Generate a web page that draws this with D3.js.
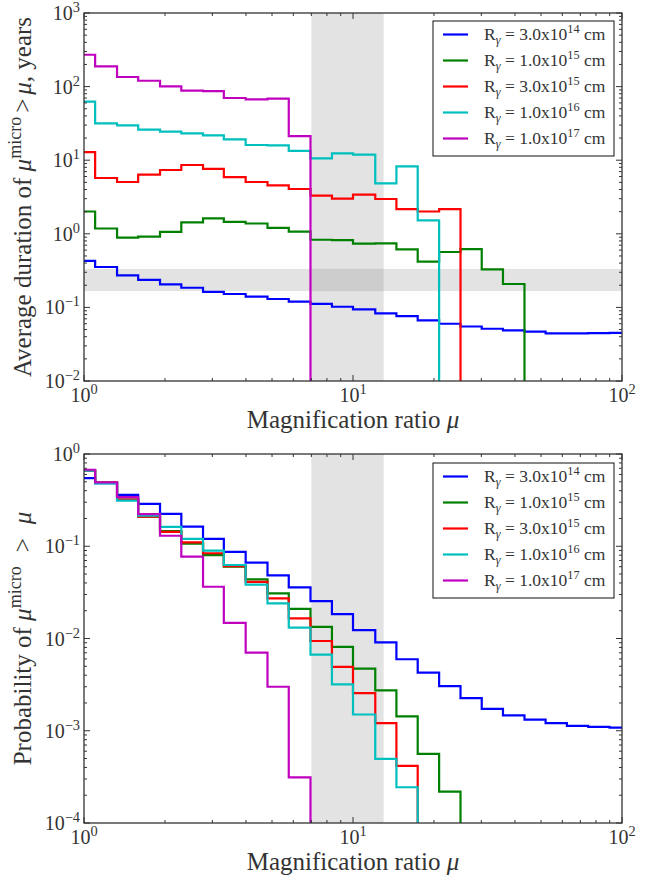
<!DOCTYPE html>
<html>
<head>
<meta charset="utf-8">
<script src="https://cdn.jsdelivr.net/npm/d3@7"></script>
<style>
  body { margin: 0; background: #fff; }
  text { font-family: "Liberation Serif", "DejaVu Serif", serif; fill: #333; }
</style>
</head>
<body>
<svg id="chart" width="660" height="881"></svg>
<script>
// bin edges of the magnification ratio (shared by both panels)
const edges = [1.0, 1.10, 1.327, 1.59, 1.917, 2.30, 2.77, 3.31, 3.99, 4.81, 5.77, 6.95, 8.35,
  10.0, 12.1, 14.5, 17.4, 20.9, 25.1, 30.1, 36.1, 43.4, 52.0, 62.4, 74.9, 89.9, 100]

const labels = ["3.0x10|14", "1.0x10|15", "3.0x10|15", "1.0x10|16", "1.0x10|17"]
const colors = ["#0000ff", "#008000", "#ff0000", "#00bfbf", "#bf00bf"]

// top panel: average duration (years)
const durBlue = [0.43, 0.354, 0.272, 0.236, 0.206, 0.185, 0.163, 0.152, 0.14, 0.13, 0.12, 0.112, 0.102,
  0.094, 0.083, 0.076, 0.0666, 0.060, 0.055, 0.0513, 0.0488, 0.0468, 0.0444, 0.0444, 0.0446, 0.045]
const durGreen = [2.01, 1.18, 0.885, 0.914, 1.06, 1.43, 1.62, 1.45, 1.38, 1.2, 1.07, 0.83, 0.82,
  0.734, 0.74, 0.614, 0.418, 0.566, 0.62, 0.328, 0.208, 0]
const durRed = [12.9, 5.73, 5.06, 6.35, 7.36, 8.6, 7.6, 5.9, 5.06, 4.55, 4.06, 3.3, 3.0,
  3.4, 2.97, 2.17, 2.01, 2.17, 0]
const durCyan = [62.4, 31.6, 29.7, 26, 24.4, 23.1, 21.7, 19.2, 16.1, 15.9, 13.4, 10.6, 12.4,
  11.9, 4.84, 8.24, 1.52, 0]
const durMagenta = [271, 188, 135, 120, 100.6, 88, 87, 70, 67, 68.6, 21.3, 0]

// bottom panel: probability of mu_micro > mu
const probBlue = [0.548, 0.484, 0.361, 0.288, 0.224, 0.163, 0.12, 0.0867, 0.0664, 0.0484, 0.0358, 0.0254, 0.0184,
  0.0123, 0.0091, 0.00596, 0.00427, 0.00305, 0.00226, 0.00173, 0.00147, 0.00132, 0.00121, 0.00113, 0.0011, 0.00108]
const probGreen = [0.66, 0.49, 0.32, 0.21, 0.146, 0.107, 0.080, 0.060, 0.0438, 0.0308, 0.021, 0.0134, 0.0081,
  0.00472, 0.00274, 0.00143, 0.000562, 0.000219, 0]
const probRed = [0.66, 0.49, 0.32, 0.21, 0.143, 0.11, 0.084, 0.061, 0.0412, 0.0272, 0.0165, 0.0094, 0.00492,
  0.00256, 0.00121, 0.000417, 0]
const probCyan = [0.66, 0.48, 0.313, 0.215, 0.162, 0.12, 0.0897, 0.0626, 0.0383, 0.024, 0.0131, 0.0067, 0.00319,
  0.0015, 0.000496, 0.000244, 0]
const probMagenta = [0.675, 0.492, 0.341, 0.223, 0.13, 0.077, 0.0364, 0.0148, 0.00704, 0.003, 0.000313, 0]

const vSpan = [7, 13]          // shaded mu range
const hSpan = [1 / 6, 1 / 3]   // shaded duration range (top only)

const svg = d3.select("#chart")

const panels = [
  { top: 13, bottom: 381, ydom: [1e-2, 1e3], series: [durBlue, durGreen, durRed, durCyan, durMagenta],
    hspan: hSpan, legendY: 21, gap: 4, ylabel: ["Average duration of ", "μ", "micro", ">", "μ", ", years"] },
  { top: 454, bottom: 823, ydom: [1e-4, 1], series: [probBlue, probGreen, probRed, probCyan, probMagenta],
    hspan: null, legendY: 463, gap: 14, ylabel: ["Probability of ", "μ", "micro", ">", "μ", ""] }
]

const left = 84, right = 622

panels.forEach((p, pi) => drawPanel(p, pi))

function powLabel(sel, e) {
  sel.append("tspan").text("10")
  sel.append("tspan").attr("dy", -8).attr("font-size", "0.72em").text(String(e).replace("-", "−"))
}

function drawPanel(p, pi) {
  let x = d3.scaleLog().domain([1, 100]).range([left, right]),
      y = d3.scaleLog().domain(p.ydom).range([p.bottom, p.top])

  let g = svg.append("g")

  g.append("clipPath").attr("id", "clip" + pi)
    .append("rect").attr("x", left).attr("y", p.top).attr("width", right - left).attr("height", p.bottom - p.top)

  // shaded spans
  g.append("rect")
    .attr("x", x(vSpan[0])).attr("width", x(vSpan[1]) - x(vSpan[0]))
    .attr("y", p.top).attr("height", p.bottom - p.top)
    .attr("fill", "#808080").attr("fill-opacity", 0.22)
  if (p.hspan) {
    g.append("rect")
      .attr("x", left).attr("width", right - left)
      .attr("y", y(p.hspan[1])).attr("height", y(p.hspan[0]) - y(p.hspan[1]))
      .attr("fill", "#808080").attr("fill-opacity", 0.22)
  }

  // step lines
  let line = d3.line()
    .x(d => x(d[0]))
    .y(d => d[1] > 0 ? y(d[1]) : p.bottom + 5)

  p.series.forEach((vals, si) => {
    let pts = []
    vals.forEach((v, i) => {
      if (v > 0) { pts.push([edges[i], v]); pts.push([edges[i + 1], v]) }
      else pts.push([edges[i], 0])
    })
    g.append("path")
      .datum(pts)
      .attr("clip-path", "url(#clip" + pi + ")")
      .attr("fill", "none")
      .attr("stroke", colors[si])
      .attr("stroke-width", 2.2)
      .attr("d", line)
  })

  // ticks on all sides, pointing inward
  let major = [1, 10, 100]
  let minor = []
  for (let d = 1; d < 100; d *= 10) for (let k = 2; k < 10; k++) minor.push(d * k)
  let ymaj = [], ymin = []
  for (let e = Math.log10(p.ydom[0]); e <= Math.log10(p.ydom[1]); e++) {
    ymaj.push(Math.pow(10, e))
    if (e < Math.log10(p.ydom[1])) for (let k = 2; k < 10; k++) ymin.push(k * Math.pow(10, e))
  }

  let tk = g.append("g").attr("stroke", "#333").attr("stroke-width", 1)
  major.forEach(v => {
    tk.append("line").attr("x1", x(v)).attr("x2", x(v)).attr("y1", p.bottom).attr("y2", p.bottom - 6)
    tk.append("line").attr("x1", x(v)).attr("x2", x(v)).attr("y1", p.top).attr("y2", p.top + 6)
  })
  minor.forEach(v => {
    tk.append("line").attr("x1", x(v)).attr("x2", x(v)).attr("y1", p.bottom).attr("y2", p.bottom - 3)
    tk.append("line").attr("x1", x(v)).attr("x2", x(v)).attr("y1", p.top).attr("y2", p.top + 3)
  })
  ymaj.forEach(v => {
    tk.append("line").attr("x1", left).attr("x2", left + 6).attr("y1", y(v)).attr("y2", y(v))
    tk.append("line").attr("x1", right).attr("x2", right - 6).attr("y1", y(v)).attr("y2", y(v))
  })
  ymin.forEach(v => {
    tk.append("line").attr("x1", left).attr("x2", left + 3).attr("y1", y(v)).attr("y2", y(v))
    tk.append("line").attr("x1", right).attr("x2", right - 3).attr("y1", y(v)).attr("y2", y(v))
  })

  // frame
  g.append("rect")
    .attr("x", left).attr("y", p.top).attr("width", right - left).attr("height", p.bottom - p.top)
    .attr("fill", "none").attr("stroke", "#333").attr("stroke-width", 1.3)

  // tick labels
  major.forEach(v => {
    let t = g.append("text").attr("x", x(v)).attr("y", p.bottom + 21)
      .attr("text-anchor", "middle").attr("font-size", 20)
    powLabel(t, Math.round(Math.log10(v)))
  })
  ymaj.forEach(v => {
    let t = g.append("text").attr("x", left - 4).attr("y", y(v) + 7)
      .attr("text-anchor", "end").attr("font-size", 20)
    powLabel(t, Math.round(Math.log10(v)))
  })

  // axis titles
  let xl = g.append("text").attr("x", (left + right) / 2).attr("y", p.bottom + 47)
    .attr("text-anchor", "middle").attr("font-size", 25)
  xl.append("tspan").text("Magnification ratio ")
  xl.append("tspan").attr("font-style", "italic").text("μ")

  let yl = g.append("text")
    .attr("transform", `translate(31,${(p.top + p.bottom) / 2}) rotate(-90)`)
    .attr("text-anchor", "middle").attr("font-size", 25)
  let L = p.ylabel
  yl.append("tspan").text(L[0])
  yl.append("tspan").attr("font-style", "italic").text(L[1])
  yl.append("tspan").attr("dy", -10).attr("font-size", "0.72em").text(L[2])
  yl.append("tspan").attr("dy", 10).attr("dx", p.gap).text(L[3])
  yl.append("tspan").attr("dx", p.gap).attr("font-style", "italic").text(L[4])
  if (L[5]) yl.append("tspan").text(L[5])

  // legend
  let lg = g.append("g").attr("transform", `translate(433,${p.legendY})`)
  lg.append("rect").attr("width", 181).attr("height", 135)
    .attr("fill", "#fff").attr("stroke", "#111").attr("stroke-width", 1)
  labels.forEach((lab, i) => {
    let yy = 13.5 + i * 26
    lg.append("line").attr("x1", 10).attr("x2", 35).attr("y1", yy).attr("y2", yy)
      .attr("stroke", colors[i]).attr("stroke-width", 2.2)
    let parts = lab.split("|")
    let t = lg.append("text").attr("x", 51).attr("y", yy + 5).attr("font-size", 17.5)
    t.append("tspan").text("R")
    t.append("tspan").attr("dy", 4).attr("font-size", "0.7em").attr("font-style", "italic").text("γ")
    t.append("tspan").attr("dy", -4).text(" = " + parts[0])
    t.append("tspan").attr("dy", -7).attr("font-size", "0.7em").text(parts[1])
    t.append("tspan").attr("dy", 7).text(" cm")
  })
}
</script>
</body>
</html>
